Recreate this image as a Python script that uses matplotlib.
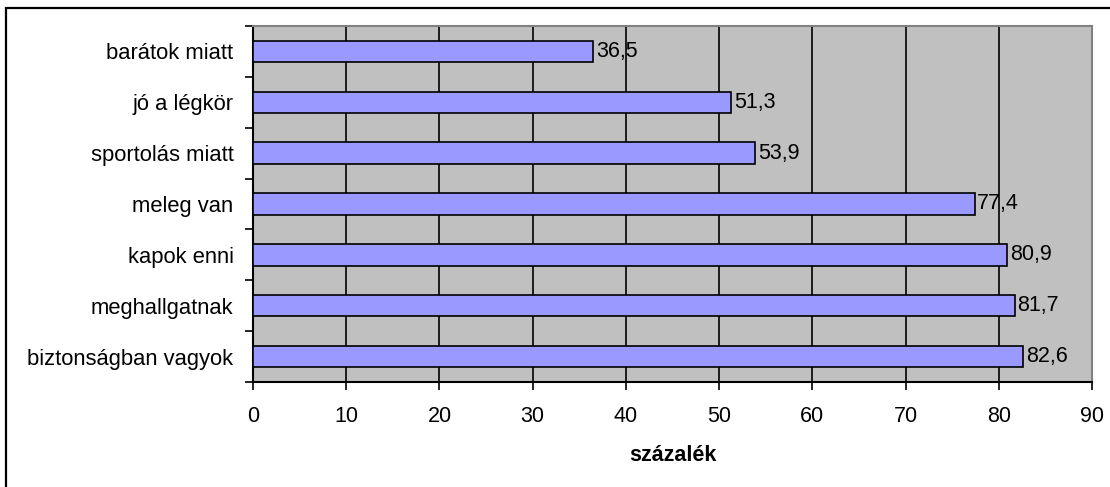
import matplotlib.pyplot as plt
from matplotlib.patches import Rectangle

plt.rcParams['font.family'] = ['Liberation Sans', 'DejaVu Sans']

# adatok
kategoriak = ['biztonságban vagyok', 'meghallgatnak', 'kapok enni', 'meleg van',
              'sportolás miatt', 'jó a légkör', 'barátok miatt']
ertekek = [82.6, 81.7, 80.9, 77.4, 53.9, 51.3, 36.5]
x_ticks = [0, 10, 20, 30, 40, 50, 60, 70, 80, 90]

fig = plt.figure(figsize=(11.1, 4.87), dpi=100)
ax = fig.add_axes([253 / 1110, 1 - 382 / 487, (1092 - 253) / 1110, (382 - 26) / 487])

# keret a diagram korul
fig.patches.append(Rectangle((6 / 1110, -0.05), 1.2, 1 - 8 / 487 + 0.05, transform=fig.transFigure,
                             fill=False, edgecolor='black', linewidth=1.6))

ax.set_facecolor('#c0c0c0')
ax.barh(range(len(ertekek)), ertekek, height=0.42, color='#9999ff', edgecolor='black',
        linewidth=1.2, zorder=3)

for i, v in enumerate(ertekek):
    ax.text(v + 0.3, i, f'{v:.1f}'.replace('.', ','), va='center', ha='left', fontsize=15.5, zorder=4)

ax.set_xlim(0, 90)
ax.set_ylim(-0.5, len(ertekek) - 0.5)
ax.set_xticks(x_ticks)
ax.set_xticklabels([str(t) for t in x_ticks], fontsize=15.5)
ax.set_yticks(range(len(kategoriak)))
ax.set_yticklabels(kategoriak, fontsize=15.8)
ax.tick_params(axis='y', length=0, pad=14)
ax.set_yticks([i - 0.5 for i in range(len(kategoriak) + 1)], minor=True)
ax.tick_params(axis='y', which='minor', length=6, width=1.2, color='black')
ax.tick_params(axis='x', length=6, width=1.2, pad=11)

ax.grid(axis='x', color='black', linewidth=1.2, zorder=1)
ax.set_axisbelow(True)

for s in ['top', 'right']:
    ax.spines[s].set_color('#808080')
    ax.spines[s].set_linewidth(1.5)
for s in ['left', 'bottom']:
    ax.spines[s].set_linewidth(1.5)

ax.set_xlabel('százalék', fontsize=15.5, fontweight='bold', labelpad=13)

plt.savefig('out.png', dpi=100)
